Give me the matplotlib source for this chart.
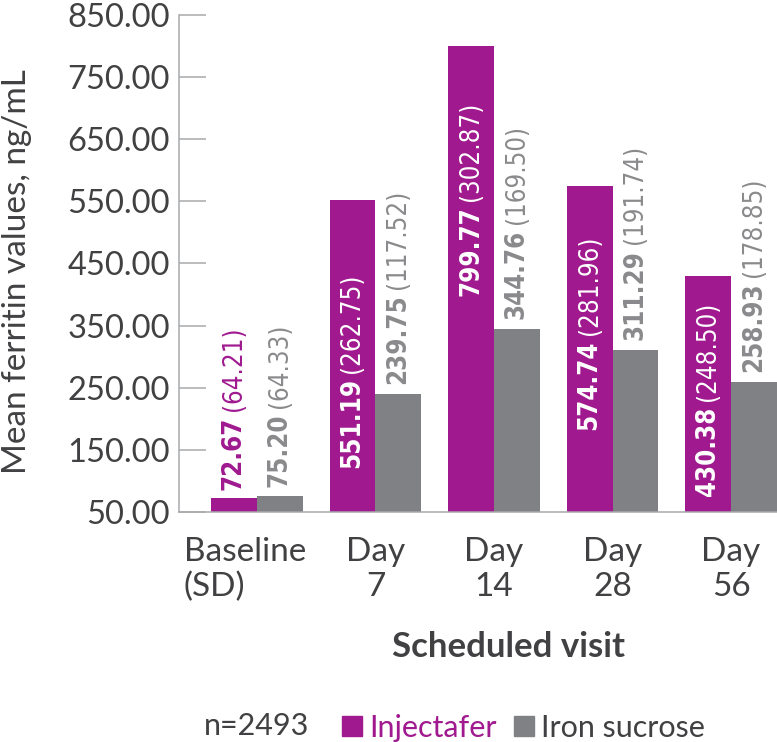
import numpy as np
import matplotlib.pyplot as plt
from matplotlib.patches import Patch
from matplotlib.transforms import ScaledTranslation

visits = ['Baseline\n(SD)', 'Day\n7', 'Day\n14', 'Day\n28', 'Day\n56']
inj_mean = [72.67, 551.19, 799.77, 574.74, 430.38]
inj_sd = [64.21, 262.75, 302.87, 281.96, 248.50]
iron_mean = [75.20, 239.75, 344.76, 311.29, 258.93]
iron_sd = [64.33, 117.52, 169.50, 191.74, 178.85]
yticks = [50, 150, 250, 350, 450, 550, 650, 750, 850]

# where the white labels start inside the magenta bars (None = above the bar)
inj_label_start = [None, 120, 397, 182, 76]

magenta = '#a0198f'
grey = '#808184'
grey_txt = '#8a8a8d'
dark = '#414042'
narrow = ['Liberation Sans Narrow', 'DejaVu Sans']

plt.rcParams['font.family'] = ['Lato', 'DejaVu Sans']

fig = plt.figure(figsize=(7.77, 7.42), dpi=100)
ax = fig.add_axes([179/777, 1-512/742, 1-179/777, (512-14.7)/742])

x = np.arange(len(visits))
w = 0.388
ax.bar(x - w/2, np.array(inj_mean) - 50, w, bottom=50, color=magenta, zorder=2)
ax.bar(x + w/2, np.array(iron_mean) - 50, w, bottom=50, color=grey, zorder=2)


def two_part(xpos, ypos, num, sd, color, offset):
    t1 = ax.annotate('%.2f' % num, (xpos, ypos), xytext=(0, offset),
                     textcoords='offset points', rotation=90, ha='center',
                     va='bottom', color=color, fontsize=18.5, fontweight='bold',
                     family=narrow, fontstretch='condensed', zorder=3)
    ax.annotate('(%.2f)' % sd, xy=(0.5, 1), xycoords=t1, xytext=(0, 4),
                textcoords='offset points', rotation=90, ha='center',
                va='bottom', color=color, fontsize=18.5, family=narrow,
                fontstretch='condensed', zorder=3)


for i in range(len(visits)):
    if inj_label_start[i] is None:
        two_part(x[i] - w/2, inj_mean[i], inj_mean[i], inj_sd[i], magenta, 6)
    else:
        two_part(x[i] - w/2, inj_label_start[i], inj_mean[i], inj_sd[i], 'white', 0)
    two_part(x[i] + w/2, iron_mean[i], iron_mean[i], iron_sd[i], grey_txt, 7)

ax.set_xlim(-0.658, 4.388)
ax.set_ylim(50, 850)
ax.set_yticks(yticks)
ax.set_yticklabels(['%.2f' % v for v in yticks])
ax.set_xticks(x)
ax.set_xticklabels(visits)

ax.tick_params(axis='y', direction='in', length=19.5, width=1.1, color='#a7a9ac',
               labelsize=23.5, labelcolor=dark, pad=6.5)
ax.tick_params(axis='x', length=0, labelsize=24, labelcolor=dark, pad=18)
for lab in ax.get_xticklabels():
    lab.set_linespacing(1.2)
    lab.set_multialignment('center')
first = ax.get_xticklabels()[0]
first.set_multialignment('left')
first.set_transform(first.get_transform() + ScaledTranslation(-0.12, 0, fig.dpi_scale_trans))

for s in ['top', 'right']:
    ax.spines[s].set_visible(False)
for s in ['left', 'bottom']:
    ax.spines[s].set_color('#a7a9ac')
    ax.spines[s].set_linewidth(1.1)

ax.set_ylabel('Mean ferritin values, ng/mL', fontsize=24, color=dark)
ax.yaxis.set_label_coords(-0.246, 0.483)

fig.text(509/777, 1-657/742, 'Scheduled visit', ha='center', va='baseline',
         fontsize=25, fontweight='bold', color=dark)

fig.text(204/777, 1-735/742, 'n=2493', ha='left', va='baseline',
         fontsize=22, color=dark)
handles = [Patch(color=magenta, label='Injectafer'),
           Patch(color=grey, label='Iron sucrose')]
leg = fig.legend(handles=handles, loc='lower left', bbox_to_anchor=(342/777, 0.0),
                 ncol=2, frameon=False, fontsize=22, handlelength=0.65,
                 handleheight=0.65, handletextpad=0.25, columnspacing=0.55,
                 borderpad=0, borderaxespad=0)
leg.get_texts()[0].set_color(magenta)
leg.get_texts()[1].set_color(dark)

fig.savefig('out.png', dpi=100)
